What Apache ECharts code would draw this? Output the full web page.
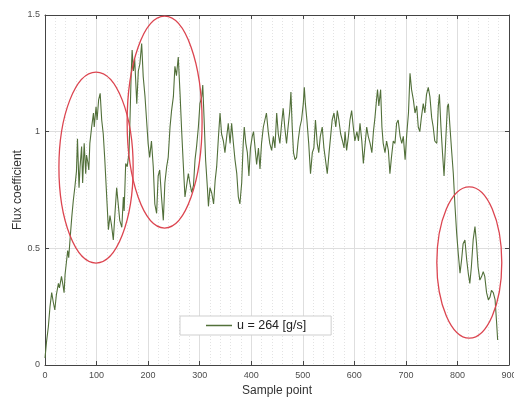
<!DOCTYPE html>
<html>
<head>
<meta charset="utf-8">
<script src="https://cdn.jsdelivr.net/npm/echarts@6/dist/echarts.min.js"></script>
<style>html,body{margin:0;padding:0;background:#fff}#c{width:514px;height:400px}</style>
</head>
<body>
<div id="c"></div>
<script>
var sampleIdx = [0,3,6.5,9.7,13,16,19,22,26,28,32,35,37,39,42,44,46,48.5,52,55,58,61,63,66,68,71,73,76,79,80.5,83,85,87,90.5,94,95.5,99,101,104,107,110,113,116,120,123,126,129,132.5,136,139,142,145,149,152,153.5,156.5,159.5,163,165,167,169,171.5,174,178,181,184,187.5,190.5,194,197,200,203,206.5,210,213,216.5,219.5,222.5,226,229.5,232.5,236,239,242.5,245.5,249,252,255,258.5,262,265,268,271.5,275,278,281,284.5,288,291,294,297.5,300.5,304,306,308.5,311.5,315,317,320,323.5,327,330,333,336.5,339.5,342.5,346,349,352.5,355.5,359,362,365,368.5,372,375,378,381.5,384.5,386.5,389.5,392.5,395.5,398.5,402,404.5,407.5,410.5,414,417,420,423.5,426.5,429.5,433,436,439.6,443,446,449.4,452.5,455.6,459,462,465,468.5,471.5,474.8,477,479.5,482,485,488,491,494.5,497.6,501,503,505,508,511.5,515,518.5,521.5,524.6,528,531,534,537.7,541,544,547.5,551,554,557,560.5,564,567,570,573.5,577,580,582,585,588.5,591.5,594.8,598,601,605,608,611,614.5,617.5,621,624,627,630.6,634,637,640,643,645,647.5,651,653.5,656,659.5,662.6,666,669,672,675.5,678.8,682,685,688.8,692,695,698.5,701.7,705,708,711,714.5,717.7,721,724,727,730,733.7,736.8,740,743.4,746.6,750,753,756,760,762.8,765,768,771,774,777,780.5,782.5,785.5,789,792,795,798.5,801.5,805,808,811,814.5,818,821,824,827,830.5,834,837,840,843.5,847,850,853,856.5,860,863,866,869.5,873,876,878];
var fluxValues = [0.03,0.10,0.164,0.25,0.31,0.27,0.236,0.30,0.35,0.33,0.38,0.34,0.31,0.39,0.45,0.49,0.46,0.536,0.636,0.707,0.764,0.83,0.97,0.76,0.85,0.936,0.78,0.95,0.82,0.9,0.87,0.836,0.95,1.02,1.08,1.02,1.107,1.05,1.136,1.164,1.05,0.99,0.88,0.707,0.58,0.64,0.60,0.536,0.66,0.76,0.69,0.62,0.59,0.72,0.66,0.864,0.85,0.91,1.064,1.236,1.35,1.26,1.31,1.12,1.26,1.29,1.378,1.236,1.15,1.05,0.95,0.89,0.96,0.85,0.69,0.65,0.81,0.836,0.72,0.62,0.78,0.85,0.89,1.02,1.09,1.15,1.28,1.24,1.32,1.16,1.007,0.87,0.72,0.72,0.82,0.78,0.74,0.77,0.88,0.936,1.02,1.12,1.15,1.20,1.06,0.88,0.76,0.68,0.76,0.736,0.69,0.79,0.85,0.98,1.08,0.99,0.96,0.91,0.98,1.036,0.95,1.036,0.96,0.88,0.82,0.72,0.69,0.78,0.95,1.02,0.95,0.91,0.81,0.93,0.98,1.0,0.93,0.86,0.93,0.84,0.95,1.02,1.05,1.08,1.0,0.95,0.92,0.98,0.93,1.08,0.99,0.95,1.036,1.1,1.02,0.95,1.02,1.09,1.17,1.02,0.91,0.88,0.89,0.96,1.02,1.05,1.12,1.19,1.12,1.05,0.95,0.82,0.91,0.93,1.05,0.95,0.91,0.98,1.02,0.93,0.88,0.82,0.91,0.98,1.05,1.08,1.02,1.09,1.05,0.99,0.96,0.93,1.0,0.92,0.98,1.05,1.09,1.02,0.96,1.0,0.96,1.036,0.96,0.864,0.95,1.02,0.98,0.95,0.91,1.0,1.06,1.136,1.18,1.11,1.18,1.02,0.95,0.91,0.96,0.92,0.82,0.89,0.96,0.95,1.036,1.05,0.98,0.95,0.98,0.88,0.99,1.08,1.25,1.18,1.136,1.08,1.11,1.02,1.0,1.06,1.12,1.08,1.16,1.19,1.15,1.06,1.02,0.96,0.95,1.107,1.16,1.02,0.91,0.81,0.95,1.107,1.12,1.02,0.91,0.82,0.69,0.564,0.48,0.393,0.45,0.52,0.536,0.45,0.393,0.35,0.42,0.536,0.593,0.52,0.42,0.364,0.38,0.40,0.38,0.31,0.279,0.29,0.32,0.31,0.28,0.18,0.107];
var xTicks = [0,100,200,300,400,500,600,700,800,900];
var yTicks = [0,0.5,1,1.5];
var seriesName = 'u = 264 [g/s]';
// highlight ellipses: center x, center y, radius x, radius y (data units)
var ellipseCx = [99, 232, 823];
var ellipseCy = [0.846, 1.041, 0.439];
var ellipseRx = [72, 72.7, 63];
var ellipseRy = [0.409, 0.454, 0.324];

var points = sampleIdx.map(function(x, i){ return [x, fluxValues[i]]; });
var ellipses = ellipseCx.map(function(c, i){ return [c, ellipseCy[i], ellipseRx[i], ellipseRy[i]]; });

var font = 'Liberation Sans, Arial, sans-serif';
var chart = echarts.init(document.getElementById('c'), null, {renderer:'canvas'});
var axisCommon = {
  min: 0,
  axisLine: {show: true, onZero: false, lineStyle: {color: '#444', width: 1}},
  axisTick: {show: true, inside: true, length: 4, lineStyle: {color: '#444'}},
};
chart.setOption({
  animation: false,
  backgroundColor: '#fff',
  grid: {left: 45, right: 5, top: 15, bottom: 35, show: false, containLabel: false, outerBoundsMode: 'none'},
  legend: {
    left: 180, top: 316,
    padding: [3, 25, 3, 26],
    backgroundColor: '#fff', borderColor: '#cfcfcf', borderWidth: 1, borderRadius: 0,
    itemWidth: 26, itemHeight: 1.5, itemGap: 4,
    data: [{name: seriesName, icon: 'rect'}],
    textStyle: {fontFamily: font, fontSize: 12.5, color: '#222', padding: [0,0,0,0]}
  },
  xAxis: [
    Object.assign({}, axisCommon, {
      type: 'value', max: 900, interval: 100, position: 'bottom',
      name: 'Sample point', nameLocation: 'middle', nameGap: 20, nameMoveOverlap: false,
      nameTextStyle: {fontFamily: font, fontSize: 12, color: '#333'},
      axisLabel: {fontFamily: font, fontSize: 9, color: '#4d4d4d', margin: 6,
        formatter: function(v){ return xTicks.indexOf(v) >= 0 ? String(v) : ''; }},
      splitLine: {show: true, lineStyle: {color: '#dedede', width: 1}},
      minorTick: {show: false, splitNumber: 5},
      minorSplitLine: {show: true, lineStyle: {color: '#e3e3e3', type: [1, 2], width: 1}}
    }),
    Object.assign({}, axisCommon, {
      type: 'value', max: 900, interval: 100, position: 'top',
      axisLabel: {show: false}, splitLine: {show: false}
    })
  ],
  yAxis: [
    Object.assign({}, axisCommon, {
      type: 'value', max: 1.5, interval: 0.5, position: 'left',
      name: 'Flux coefficient', nameLocation: 'middle', nameGap: 21, nameMoveOverlap: false,
      nameTextStyle: {fontFamily: font, fontSize: 12, color: '#333'},
      axisLabel: {fontFamily: font, fontSize: 9, color: '#4d4d4d', margin: 5,
        formatter: function(v){ return yTicks.indexOf(v) >= 0 ? String(v) : ''; }},
      splitLine: {show: true, lineStyle: {color: '#dedede', width: 1}}
    }),
    Object.assign({}, axisCommon, {
      type: 'value', max: 1.5, interval: 0.5, position: 'right',
      axisLabel: {show: false}, splitLine: {show: false}
    })
  ],
  series: [
    {
      name: seriesName, type: 'line', data: points, showSymbol: false, symbol: 'none',
      xAxisIndex: 0, yAxisIndex: 0,
      lineStyle: {color: '#52703a', width: 1.1},
      itemStyle: {color: '#52703a'},
      z: 3
    },
    {
      name: 'ellipses', type: 'custom', data: ellipses, xAxisIndex: 0, yAxisIndex: 0,
      silent: true, z: 4, clip: false,
      renderItem: function(params, api){
        var c = api.coord([api.value(0), api.value(1)]);
        var e = api.coord([api.value(0) + api.value(2), api.value(1) + api.value(3)]);
        var rx = Math.abs(e[0] - c[0]);
        var ry = Math.abs(c[1] - e[1]);
        return {
          type: 'ellipse',
          shape: {cx: c[0], cy: c[1], rx: rx, ry: ry},
          style: {fill: null, stroke: '#dc4550', lineWidth: 1.3}
        };
      }
    }
  ]
});
</script>
</body>
</html>
